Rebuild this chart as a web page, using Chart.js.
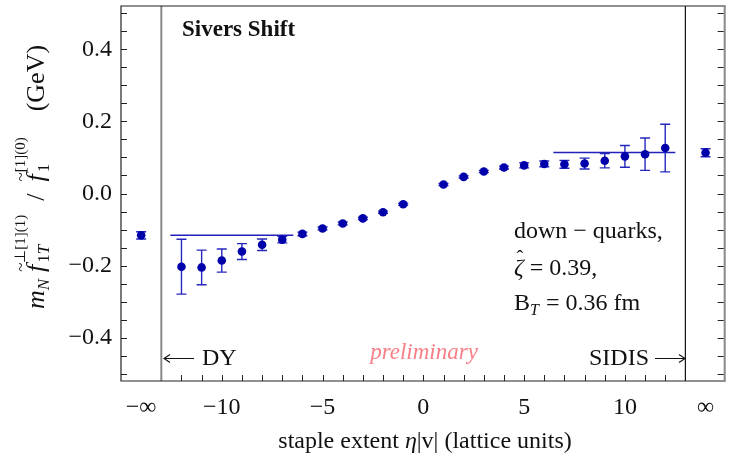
<!DOCTYPE html>
<html lang="en">
<head>
<meta charset="UTF-8" />
<title>Sivers Shift</title>
<script src="https://cdn.jsdelivr.net/npm/chart.js"></script>
<style>
  body { margin: 0; background: #ffffff; }
  #wrap { width: 730px; height: 460px; }
</style>
</head>
<body>
<div id="wrap"><canvas id="sivers" width="730" height="460"></canvas></div>
<script>
  // staple extent eta|v|; -14 and 14 stand in for -inf / +inf
  const staple = [-14, -12, -11, -10, -9, -8, -7, -6, -5, -4, -3, -2, -1, 1, 2, 3, 4, 5, 6, 7, 8, 9, 10, 11, 12, 14];
  const shift = [-0.116, -0.203, -0.205, -0.186, -0.161, -0.142, -0.128, -0.112, -0.097, -0.083, -0.069, -0.052, -0.030,
                 0.025, 0.046, 0.061, 0.072, 0.078, 0.082, 0.081, 0.083, 0.091, 0.103, 0.109, 0.126, 0.113];
  const shiftErr = [0.010, 0.076, 0.048, 0.032, 0.022, 0.016, 0.009, 0.005, 0.004, 0.004, 0.003, 0.003, 0.003,
                    0.003, 0.003, 0.003, 0.004, 0.007, 0.008, 0.011, 0.015, 0.020, 0.030, 0.045, 0.066, 0.011];

  // plateau fits
  const dyRange = [-12.55, -6.45];
  const dyValue = -0.1155;
  const sidisRange = [6.45, 12.5];
  const sidisValue = 0.1136;
  const limitLines = [-13, 13];

  const xTickPos = [-14, -10, -5, 0, 5, 10, 14];
  const xTickText = ['−∞', '−10', '−5', '0', '5', '10', '∞'];
  const yTickPos = [-0.4, -0.2, 0, 0.2, 0.4];
  const yTickText = ['−0.4', '−0.2', '0.0', '0.2', '0.4'];

  const xMin = -15, xMax = 15, yMin = -0.52, yMax = 0.52;

  const SERIF = "'Liberation Serif', 'Times New Roman', serif";
  const fnt = (size, style) => (style || '') + ' ' + size + 'px ' + SERIF;

  // draw a list of text runs on one line, returns end x
  function drawList(ctx, list, x, y, draw) {
    list.forEach(r => {
      ctx.font = r.font;
      const w = ctx.measureText(r.t).width;
      if (draw) {
        ctx.fillText(r.t, x, y + (r.dy || 0));
        if (r.tilde) {
          ctx.save();
          ctx.font = fnt(17);
          ctx.textAlign = 'center';
          ctx.fillText('~', x + w * 0.65, y - 18);
          ctx.restore();
        }
      }
      x += w + (r.kern || 0);
    });
    return x;
  }

  function drawMath(ctx, items, x, y, draw) {
    items.forEach(it => {
      if (it.stack) {
        let end = x;
        it.stack.forEach(list => { end = Math.max(end, drawList(ctx, list, x, y, draw)); });
        x = end;
      } else {
        x = drawList(ctx, [it], x, y, draw);
      }
      x += it.gapAfter || 0;
    });
    return x;
  }

  const yTitle = [
    { t: 'm', font: fnt(26, 'italic') },
    { t: 'N', font: fnt(17, 'italic'), dy: 5, kern: 7 },
    { t: 'f', font: fnt(26, 'italic'), tilde: true, kern: 2 },
    { stack: [
      [{ t: '⊥[1](1)', font: fnt(15), dy: -19 }],
      [{ t: '1', font: fnt(17), dy: 5 }, { t: 'T', font: fnt(17, 'italic'), dy: 5 }]
    ], gapAfter: 14 },
    { t: '/', font: fnt(26), kern: 12 },
    { t: 'f', font: fnt(26, 'italic'), tilde: true, kern: 2 },
    { stack: [
      [{ t: '[1](0)', font: fnt(15), dy: -19 }],
      [{ t: '1', font: fnt(17), dy: 5 }]
    ], gapAfter: 26 },
    { t: '(GeV)', font: fnt(26) }
  ];

  const xTitle = [
    { t: 'staple extent ', font: fnt(24) },
    { t: 'η', font: fnt(24, 'italic') },
    { t: '|v| (lattice units)', font: fnt(24) }
  ];

  function arrow(ctx, x1, x2, y, dir) {
    ctx.beginPath();
    ctx.moveTo(x1, y); ctx.lineTo(x2, y);
    const tip = dir < 0 ? x1 : x2;
    ctx.moveTo(tip - dir * 6, y - 4); ctx.lineTo(tip, y); ctx.lineTo(tip - dir * 6, y + 4);
    ctx.stroke();
  }

  const decor = {
    id: 'decor',
    beforeDatasetsDraw(chart) {
      const { ctx, scales: { x, y } } = chart;
      ctx.save();
      ctx.strokeStyle = '#2727bd';
      ctx.lineWidth = 1.4;
      staple.forEach((s, i) => {
        const px = x.getPixelForValue(s);
        const top = y.getPixelForValue(shift[i] + shiftErr[i]);
        const bot = y.getPixelForValue(shift[i] - shiftErr[i]);
        ctx.beginPath();
        ctx.moveTo(px, top); ctx.lineTo(px, bot);
        ctx.moveTo(px - 5, top); ctx.lineTo(px + 5, top);
        ctx.moveTo(px - 5, bot); ctx.lineTo(px + 5, bot);
        ctx.stroke();
      });
      ctx.restore();
    },
    afterDraw(chart) {
      const { ctx, chartArea: a, scales: { x, y } } = chart;
      ctx.save();

      // frame
      ctx.lineWidth = 1.2;
      ctx.strokeStyle = '#222';
      ctx.beginPath();
      ctx.moveTo(a.right, a.top); ctx.lineTo(a.left, a.top);
      ctx.lineTo(a.left, a.bottom); ctx.lineTo(a.right, a.bottom);
      ctx.stroke();
      ctx.strokeStyle = '#888';
      ctx.lineWidth = 2;
      ctx.beginPath();
      ctx.moveTo(a.right - 1, a.top); ctx.lineTo(a.right - 1, a.bottom);
      ctx.stroke();

      // inward tick marks
      ctx.strokeStyle = '#222';
      ctx.lineWidth = 1;
      ctx.beginPath();
      for (let v = -12; v <= 12; v++) {
        const px = Math.round(x.getPixelForValue(v)) + 0.5;
        ctx.moveTo(px, a.bottom); ctx.lineTo(px, a.bottom - 6);
      }
      for (let k = -10; k <= 10; k++) {
        const py = Math.round(y.getPixelForValue(k * 0.05)) + 0.5;
        ctx.moveTo(a.left, py); ctx.lineTo(a.left + 6, py);
        ctx.moveTo(a.right - 2, py); ctx.lineTo(a.right - 8, py);
      }
      ctx.stroke();

      // annotations
      ctx.fillStyle = '#111';
      ctx.textBaseline = 'alphabetic';
      ctx.font = fnt(23, 'bold');
      ctx.fillText('Sivers Shift', 182, 36);

      ctx.font = fnt(24);
      ctx.fillText('down − quarks,', 514, 238);
      ctx.font = fnt(24, 'italic');
      ctx.fillText('ζ', 514, 275);
      const zw = ctx.measureText('ζ').width;
      ctx.font = fnt(20);
      ctx.textAlign = 'center';
      ctx.fillText('ˆ', 514 + zw * 0.6, 265);
      ctx.textAlign = 'left';
      ctx.font = fnt(24);
      ctx.fillText(' = 0.39,', 514 + zw, 275);
      ctx.fillText('B', 514, 310);
      const bw = ctx.measureText('B').width;
      ctx.font = fnt(16, 'italic');
      ctx.fillText('T', 514 + bw, 315);
      ctx.font = fnt(24);
      ctx.fillText(' = 0.36 fm', 514 + bw + 10, 310);

      ctx.fillText('DY', 202, 365);
      ctx.textAlign = 'right';
      ctx.fillText('SIDIS', 649, 365);
      ctx.strokeStyle = '#111';
      ctx.lineWidth = 1.1;
      arrow(ctx, 164, 194, 358.5, -1);
      arrow(ctx, 655, 685, 358.5, 1);

      ctx.textAlign = 'center';
      ctx.fillStyle = '#f77f86';
      ctx.font = fnt(23, 'italic');
      ctx.fillText('preliminary', 424, 359);

      // x title
      ctx.fillStyle = '#111';
      ctx.textAlign = 'left';
      const xw = drawMath(ctx, xTitle, 0, 0, false);
      drawMath(ctx, xTitle, 425 - xw / 2, 448, true);

      // y title, rotated
      const yw = drawMath(ctx, yTitle, 0, 0, false);
      ctx.translate(44, 177);
      ctx.rotate(-Math.PI / 2);
      drawMath(ctx, yTitle, -yw / 2, 0, true);
      ctx.restore();
    }
  };

  const pts = staple.map((s, i) => ({ x: s, y: shift[i] }));
  const seg = (x1, x2, v) => [{ x: x1, y: v }, { x: x2, y: v }];

  new Chart(document.getElementById('sivers'), {
    type: 'scatter',
    data: {
      datasets: [
        { data: pts, pointRadius: 4.3, pointBackgroundColor: '#0000aa', pointBorderWidth: 0, showLine: false, order: 0 },
        { data: seg(dyRange[0], dyRange[1], dyValue), showLine: true, borderColor: '#2222bb', borderWidth: 1.5, pointRadius: 0, order: 1 },
        { data: seg(sidisRange[0], sidisRange[1], sidisValue), showLine: true, borderColor: '#2222bb', borderWidth: 1.5, pointRadius: 0, order: 1 },
        { data: [{ x: limitLines[0], y: yMin }, { x: limitLines[0], y: yMax }], showLine: true, borderColor: '#888888', borderWidth: 2, pointRadius: 0, order: 2 },
        { data: [{ x: limitLines[1], y: yMin }, { x: limitLines[1], y: yMax }], showLine: true, borderColor: '#111111', borderWidth: 1.2, pointRadius: 0, order: 2 }
      ]
    },
    options: {
      responsive: false,
      animation: false,
      devicePixelRatio: 1,
      layout: { padding: { top: 6, right: 3, left: 0, bottom: 0 } },
      plugins: { legend: { display: false }, tooltip: { enabled: false } },
      scales: {
        x: {
          type: 'linear', min: xMin, max: xMax,
          afterBuildTicks: s => { s.ticks = xTickPos.map(v => ({ value: v })); },
          afterFit: s => { s.height = 79; s.paddingLeft = 0; s.paddingRight = 0; },
          grid: { display: false, drawTicks: false },
          border: { display: false },
          ticks: {
            autoSkip: false, maxRotation: 0, padding: 12, color: '#111',
            font: { family: SERIF, size: 24 },
            callback: (v, i) => xTickText[i]
          }
        },
        y: {
          type: 'linear', min: yMin, max: yMax,
          afterBuildTicks: s => { s.ticks = yTickPos.map(v => ({ value: v })); },
          afterFit: s => { s.width = 121; s.paddingTop = 0; s.paddingBottom = 0; },
          grid: { display: false, drawTicks: false },
          border: { display: false },
          ticks: {
            autoSkip: false, padding: 9, color: '#111',
            font: { family: SERIF, size: 24 },
            callback: (v, i) => yTickText[i]
          }
        }
      }
    },
    plugins: [decor]
  });
</script>
</body>
</html>
